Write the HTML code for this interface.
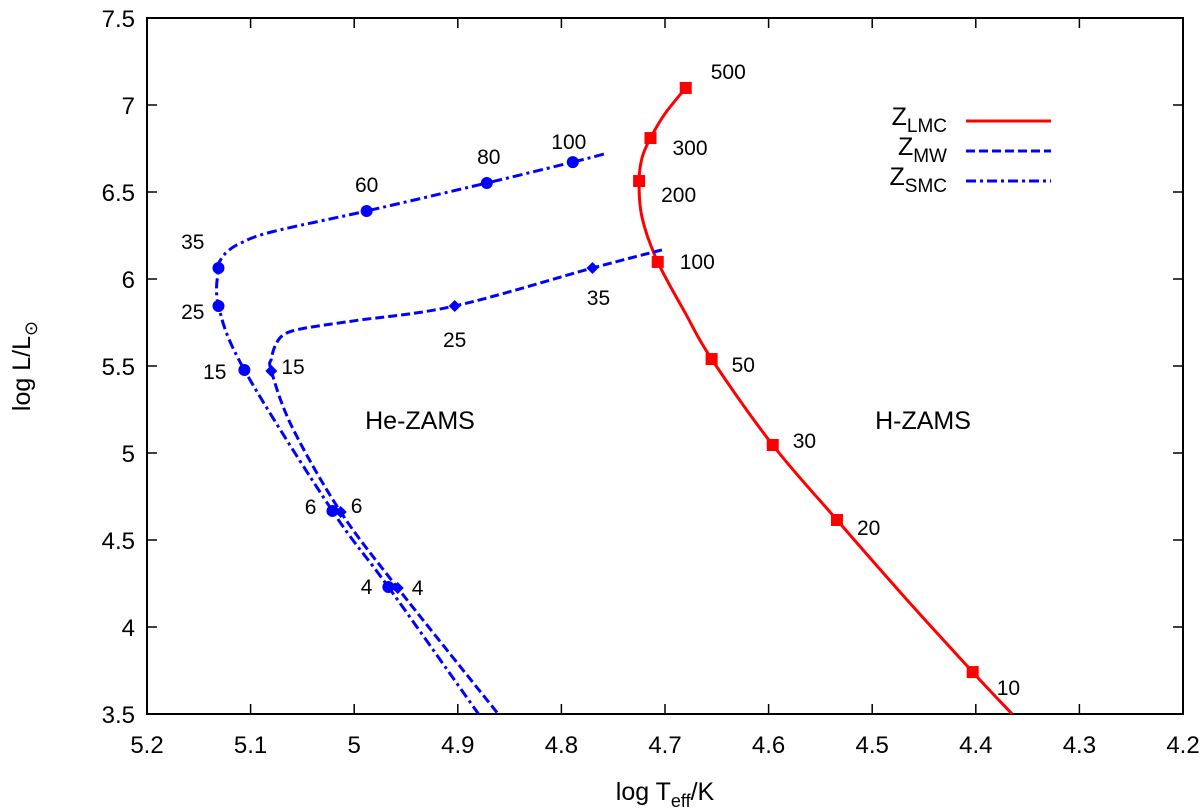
<!DOCTYPE html>
<html><head><meta charset="utf-8"><style>
body{margin:0;background:#fff}
svg{display:block;font-family:"Liberation Sans",sans-serif}
</style></head><body>
<svg id="chart" width="1200" height="812" viewBox="0 0 1200 812"></svg>
<script>
const xTicks=[5.2,5.1,5.0,4.9,4.8,4.7,4.6,4.5,4.4,4.3,4.2];
const xTickLabels=["5.2","5.1","5","4.9","4.8","4.7","4.6","4.5","4.4","4.3","4.2"];
const yTicks=[3.5,4,4.5,5,5.5,6,6.5,7,7.5];
const yTickLabels=["3.5","4","4.5","5","5.5","6","6.5","7","7.5"];
// H-ZAMS (LMC) track
const lmcTrackT=[4.680,4.700,4.714,4.722,4.725,4.722,4.707,4.680,4.655,4.596,4.534,4.470,4.403,4.365];
const lmcTrackL=[7.098,6.950,6.810,6.700,6.563,6.350,6.098,5.800,5.540,5.046,4.615,4.180,3.741,3.500];
const lmcMarkT=[4.680,4.714,4.725,4.707,4.655,4.596,4.534,4.403];
const lmcMarkL=[7.098,6.810,6.563,6.098,5.540,5.046,4.615,3.741];
const lmcMarkLabels=["500","300","200","100","50","30","20","10"];
// SMC He-ZAMS track
const smcTrackT=[4.759,4.789,4.872,4.988,5.080,5.110,5.122,5.129,5.131,5.131,5.106,5.021,4.967,4.880];
const smcTrackL=[6.718,6.672,6.552,6.391,6.270,6.205,6.160,6.110,6.063,5.845,5.477,4.667,4.230,3.500];
const smcMarkT=[4.789,4.872,4.988,5.131,5.131,5.106,5.021,4.967];
const smcMarkL=[6.672,6.552,6.391,6.063,5.845,5.477,4.667,4.230];
const smcMarkLabels=["100","80","60","35","25","15","6","4"];
// MW He-ZAMS track
const mwTrackT=[4.703,4.770,4.903,5.000,5.050,5.068,5.076,5.080,5.080,5.060,5.013,4.958,4.861];
const mwTrackL=[6.167,6.063,5.845,5.760,5.715,5.680,5.620,5.540,5.471,5.150,4.661,4.224,3.500];
const mwMarkT=[4.770,4.903,5.080,5.013,4.958];
const mwMarkL=[6.063,5.845,5.471,4.661,4.224];
const mwMarkLabels=["35","25","15","6","4"];

const X0=147,X1=1183,Y0=714,Y1=18;
const sx=v=>X0+(5.2-v)/(5.2-4.2)*(X1-X0);
const sy=v=>Y0-(v-3.5)/(7.5-3.5)*(Y0-Y1);
const svg=document.getElementById('chart');
const NS='http://www.w3.org/2000/svg';
function mk(tag,attrs,parent){const e=document.createElementNS(NS,tag);for(const k in attrs)e.setAttribute(k,attrs[k]);(parent||svg).appendChild(e);return e;}

const frame=mk('rect',{x:X0,y:Y1,width:X1-X0,height:Y0-Y1,fill:'none',stroke:'#000','stroke-width':2});


xTicks.forEach((t,i)=>{
  const x=sx(t);
  const tk=mk('path',{d:`M${x},${Y0}v-10M${x},${Y1}v10`,stroke:'#000','stroke-width':1.5});
  
  
  const l=mk('text',{x:x,y:Y0+39,'font-size':24,'text-anchor':'middle'});
  l.textContent=xTickLabels[i];
  
  
});
yTicks.forEach((t,i)=>{
  const y=sy(t);
  const tk=mk('path',{d:`M${X0},${y}h10M${X1},${y}h-10`,stroke:'#000','stroke-width':1.5});
  
  
  const l=mk('text',{x:X0-12,y:y+9,'font-size':24,'text-anchor':'end'});
  l.textContent=yTickLabels[i];
  
  
});
const xt=mk('text',{x:665,y:800,'font-size':25,'text-anchor':'middle'});
xt.innerHTML='log T<tspan font-size="18" dy="7">eff</tspan><tspan dy="-7">/K</tspan>';


const yt=mk('text',{x:30,y:366,'font-size':25,'text-anchor':'middle',transform:'rotate(-90 30 366)'});
yt.innerHTML='log L/L<tspan font-size="18" dy="7">&#x2299;</tspan>';



function pathOf(T,L){
  const P=T.map((t,i)=>[sx(t),sy(L[i])]);
  let d='M'+P[0][0].toFixed(1)+','+P[0][1].toFixed(1);
  for(let i=0;i<P.length-1;i++){
    const p0=P[Math.max(0,i-1)],p1=P[i],p2=P[i+1],p3=P[Math.min(P.length-1,i+2)];
    const c1=[p1[0]+(p2[0]-p0[0])/6,p1[1]+(p2[1]-p0[1])/6];
    const c2=[p2[0]-(p3[0]-p1[0])/6,p2[1]-(p3[1]-p1[1])/6];
    d+=`C${c1[0].toFixed(1)},${c1[1].toFixed(1)} ${c2[0].toFixed(1)},${c2[1].toFixed(1)} ${p2[0].toFixed(1)},${p2[1].toFixed(1)}`;
  }
  return d;
}
const lmcLine=mk('path',{d:pathOf(lmcTrackT,lmcTrackL),fill:'none',stroke:'#f00','stroke-width':3,'stroke-linejoin':'round'});


const mwLine=mk('path',{d:pathOf(mwTrackT,mwTrackL),fill:'none',stroke:'#00f','stroke-width':3,'stroke-dasharray':'9,4','stroke-linejoin':'round'});


const smcLine=mk('path',{d:pathOf(smcTrackT,smcTrackL),fill:'none',stroke:'#00f','stroke-width':3,'stroke-dasharray':'10,4,3,4','stroke-linejoin':'round'});



const lmcOff=[[25,-16],[22,10],[22,14],[22,0],[20,6],[20,-4],[20,8],[24,16]];
lmcMarkT.forEach((t,i)=>{
  const x=sx(t),y=sy(lmcMarkL[i]);
  const m=mk('rect',{x:x-6,y:y-6,width:12,height:12,fill:'#f00'});
  
  
  const l=mk('text',{x:x+lmcOff[i][0],y:y+lmcOff[i][1]+7,'font-size':21});
  l.textContent=lmcMarkLabels[i];
  
  
});
const smcOff=[[-4,-20,'middle'],[2,-26,'middle'],[0,-26,'middle'],[-14,-26,'end'],[-14,6,'end'],[-18,2,'end'],[-16,-4,'end'],[-16,0,'end']];
smcMarkT.forEach((t,i)=>{
  const x=sx(t),y=sy(smcMarkL[i]);
  const m=mk('circle',{cx:x,cy:y,r:6,fill:'#00f'});
  
  
  const l=mk('text',{x:x+smcOff[i][0],y:y+smcOff[i][1]+7,'font-size':21,'text-anchor':smcOff[i][2]});
  l.textContent=smcMarkLabels[i];
  
  
});
const mwOff=[[6,30,'middle'],[0,34,'middle'],[10,-4,'start'],[10,-6,'start'],[14,0,'start']];
mwMarkT.forEach((t,i)=>{
  const x=sx(t),y=sy(mwMarkL[i]);
  const m=mk('path',{d:`M${x},${y-6}l6,6l-6,6l-6,-6z`,fill:'#00f'});
  
  
  const l=mk('text',{x:x+mwOff[i][0],y:y+mwOff[i][1]+7,'font-size':21,'text-anchor':mwOff[i][2]});
  l.textContent=mwMarkLabels[i];
  
  
});

const a1=mk('text',{x:420,y:429,'font-size':25,'text-anchor':'middle'});a1.textContent='He-ZAMS';


const a2=mk('text',{x:923,y:429,'font-size':25,'text-anchor':'middle'});a2.textContent='H-ZAMS';



const leg=[["LMC","#f00",'none',121],["MW","#00f",'9,4',151],["SMC","#00f",'10,4,3,4',181]];
leg.forEach(e=>{
  const t=mk('text',{x:947,y:e[3]+4,'font-size':25,'text-anchor':'end'});
  t.innerHTML='Z<tspan font-size="19" dy="7">'+e[0]+'</tspan>';
  
  
  const l=mk('line',{x1:966,x2:1051,y1:e[3],y2:e[3],stroke:e[1],'stroke-width':3,'stroke-dasharray':e[2]});
  
  
});
</script>
</body></html>
